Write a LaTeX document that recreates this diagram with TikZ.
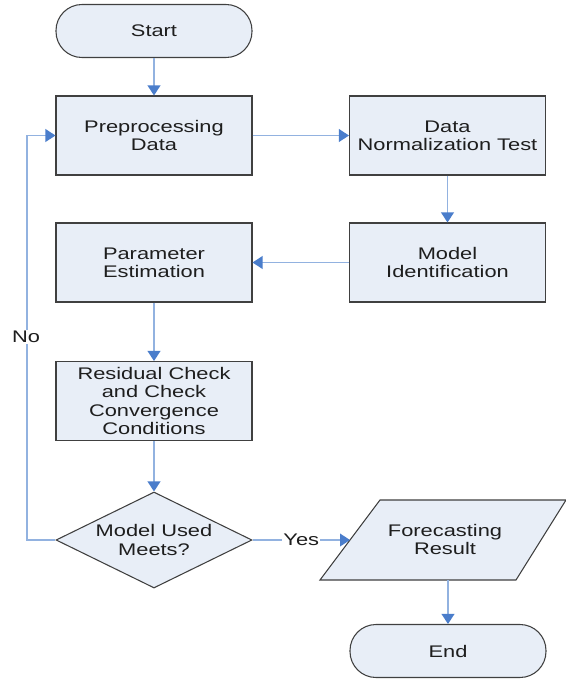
\documentclass[tikz,border=0pt]{standalone}
\usepackage{fontspec}
\setmainfont{Liberation Sans}[FakeStretch=1.3]
\usetikzlibrary{arrows.meta,shapes.geometric}
\definecolor{boxfill}{RGB}{232,238,247}
\definecolor{boxline}{RGB}{64,64,64}
\definecolor{linec}{RGB}{146,178,224}
\definecolor{tipc}{RGB}{74,125,203}
\definecolor{txt}{RGB}{30,30,30}
\tikzset{
  base/.style={draw=boxline, fill=boxfill, line width=0.8pt, text=txt, align=center,
    font=\fontsize{12.6}{13.6}\selectfont, inner sep=0pt},
  procbox/.style={base, rectangle, minimum width=147pt, minimum height=59.25pt},
  termbox/.style={base, rectangle, rounded corners=19.5pt, minimum width=147pt, minimum height=39.75pt},
  decbox/.style={base, diamond, aspect=2.04, minimum width=147pt, minimum height=72pt},
  conn/.style={draw=linec, line width=1.3pt, -{Triangle[length=7.5pt,width=9.5pt,color=tipc]}},
  lbl/.style={fill=white, inner sep=1pt, text=txt, font=\fontsize{12.6}{13.6}\selectfont}
}
\begin{document}
\begin{tikzpicture}[x=0.75pt,y=-0.75pt]
\useasboundingbox (0,0) rectangle (566,679);
\node[termbox] (start) at (154,31) {Start};
\node[procbox] (pre) at (154,135.5) {Preprocessing\\Data};
\node[procbox] (dn) at (447.5,135.5) {Data\\Normalization Test};
\node[procbox] (mi) at (447.5,262.5) {Model\\Identification};
\node[procbox] (pe) at (154,262.5) {Parameter\\Estimation};
\node[procbox] (res) at (154,401) {Residual Check\\and Check\\Convergence\\Conditions};
\node[decbox] (dia) at (154,540) {Model Used\\Meets?};
% parallelogram
\draw[draw=boxline, fill=boxfill, line width=0.8pt] (320,580) -- (380,500) -- (566,500) -- (516,580) -- cycle;
\node[align=center, text=txt, font=\fontsize{12.6}{13.6}\selectfont, inner sep=0pt] (fc) at (445,539.5) {Forecasting\\Result};
\coordinate (fcw) at (350,540);
\coordinate (fcs) at (448,580);
\node[termbox] (end) at (448,651) {End};
\coordinate (loopx) at (27,540);
\draw[conn] (start) -- (pre);
\draw[conn] (pre) -- (dn);
\draw[conn] (dn) -- (mi);
\draw[conn] (mi) -- (pe);
\draw[conn] (pe) -- (res);
\draw[conn] (res) -- (dia);
\draw[conn] (dia.east) -- node[lbl, pos=0.5] (yes) {Yes} (fcw);
\draw[conn] (fcs) -- (end);
\draw[conn] (dia.west) -- (loopx) |- (pre.west);
\node[lbl] (no) at (26,337) {No};
\end{tikzpicture}
\end{document}
